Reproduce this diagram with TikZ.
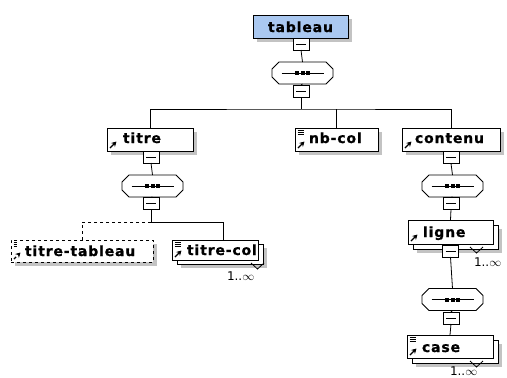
\documentclass[tikz,border=0pt]{standalone}
\usepackage{fontspec}
\setmainfont{DejaVu Sans}
\newfontfamily\boxfont[LetterSpace=6,FakeBold=1,BoldFont={DejaVu Sans Bold}]{DejaVu Sans}
\usetikzlibrary{shadows,arrows.meta}
\definecolor{tabblue}{RGB}{170,200,240}
\definecolor{shadowgray}{RGB}{195,195,195}
\newcommand\octopath[1]{([shift={(-23.5,-11)}]#1.center) -- ([shift={(23.5,-11)}]#1.center) -- ([shift={(30.5,-4)}]#1.center) -- ([shift={(30.5,4)}]#1.center) -- ([shift={(23.5,11)}]#1.center) -- ([shift={(-23.5,11)}]#1.center) -- ([shift={(-30.5,4)}]#1.center) -- ([shift={(-30.5,-4)}]#1.center) -- cycle}
\newcommand\seqnode[3]{%
  \node[seqbox] (#1) at (#2,#3) {};
  \begin{scope}[shift={(4,4)}]\fill[shadowgray] \octopath{#1};\end{scope}
  \filldraw[fill=white] \octopath{#1};
  \draw ([xshift=-21pt]#1.center) -- ([xshift=21pt]#1.center);
  \foreach \dx in {-5.5,0,5.5} \fill ([xshift=\dx pt]#1.center) +(-2,-2) rectangle +(2,2);
}
\begin{document}
\begin{tikzpicture}[x=1pt,y=-1pt,
  every node/.style={inner sep=0pt, outer sep=0pt},
  line width=0.8pt,
  shad/.style={drop shadow={shadow xshift=4pt,shadow yshift=-4pt,fill=shadowgray,draw=none,opacity=1}},
  elem/.style={draw, fill=white, line width=0.8pt, rectangle, anchor=north west},
  txt/.style={anchor=base west, font=\boxfont\bfseries\fontsize{14}{16}\selectfont},
  occ/.style={anchor=west, font=\fontsize{12}{14}\selectfont},
  mbox/.style={draw, fill=white, line width=0.8pt, minimum width=16pt, minimum height=12pt,
    path picture={\draw[line width=0.8pt] ([xshift=3pt]path picture bounding box.west) -- ([xshift=-3pt]path picture bounding box.east);}},
  seqbox/.style={rectangle, minimum width=61pt, minimum height=22pt},
  arrowicon/.style={path picture={\draw[line width=1.3pt,-{Stealth[length=5pt,width=5.5pt]}] ([shift={(3,-3)}]path picture bounding box.south west) -- ++(6.5,-6.5);}},
  bothicons/.style={path picture={\draw[line width=1.3pt,-{Stealth[length=5pt,width=5.5pt]}] ([shift={(3,-3)}]path picture bounding box.south west) -- ++(6.5,-6.5);
     \foreach \dy in {2.5,4.5,6.5} \draw[line width=0.6pt] ([shift={(2.5,\dy)}]path picture bounding box.north west) -- ++(6,0);}},
]
\useasboundingbox (0,0) rectangle (507,378);

% root
\node[elem, shad, fill=tabblue, minimum width=95pt, minimum height=23pt] (tableau) at (253,15) {};
\node[txt, anchor=base] (tableaut) at (300.5,32) {tableau};
\node[mbox] (m1) at (301,44) {};
\seqnode{s1}{302.5}{73}
\node[mbox] (m2) at (301,91) {};
\coordinate (j1) at (301,109);

% level 1
\node[elem, shad, arrowicon, minimum width=86pt, minimum height=23pt] (titre) at (107,128) {};
\node[txt] (titret) at (123,143) {titre};
\node[elem, shad, bothicons, minimum width=83pt, minimum height=23pt] (nbcol) at (295,128) {};
\node[txt] (nbcolt) at (309,143) {nb-col};
\node[elem, shad, arrowicon, minimum width=98pt, minimum height=23pt] (contenu) at (402,128) {};
\node[txt] (contenut) at (415,143) {contenu};

% titre branch
\node[mbox] (m3) at (151,157) {};
\seqnode{s2}{152.5}{186}
\node[mbox] (m4) at (151,203.5) {};
\coordinate (j2) at (151,222);
\node[elem, shad, dashed, bothicons, minimum width=142pt, minimum height=22pt] (titretab) at (11,240) {};
\node[txt] (titretabt) at (25,256) {titre-tableau};
\node[elem, shad, minimum width=86pt, minimum height=20pt] (titrecolb) at (177,244) {};
\node[elem, bothicons, minimum width=86pt, minimum height=20pt] (titrecol) at (172,240) {};
\node[txt] (titrecolt) at (187,255) {titre-col};
\draw (251,263) -- (257.5,269) -- (264,263);
\node[occ] (occ1) at (227,276) {1..$\infty$};

% contenu branch
\node[mbox] (m5) at (451,157.5) {};
\seqnode{s3}{452.5}{186}
\node[mbox] (m6) at (451,203.5) {};
\node[elem, shad, minimum width=85pt, minimum height=24pt] (ligneb) at (413,225) {};
\node[elem, arrowicon, minimum width=85pt, minimum height=24pt] (ligne) at (408,220) {};
\node[txt] (lignet) at (423,237) {ligne};
\draw (470,247) -- (476.5,253) -- (483,247);
\node[occ] (occ2) at (474,262) {1..$\infty$};
\node[mbox] (m7) at (450.5,251) {};
\seqnode{s4}{452.5}{299.5}
\node[mbox] (m8) at (451,318) {};
\node[elem, shad, minimum width=86pt, minimum height=23pt] (caseb) at (412,340) {};
\node[elem, bothicons, minimum width=86pt, minimum height=23pt] (case) at (407,335) {};
\node[txt] (caset) at (422,352) {case};
\draw (470,361) -- (476.5,367) -- (483,361);
\node[occ] (occ3) at (450,371) {1..$\infty$};

% connectors
\draw (m1.south) -- (s1.north);
\draw (s1.south) -- (m2.north);
\draw (m2.south) -- (j1);
\draw (titre.north) |- (j1) -| (contenu.north);
\draw (nbcol.north) -- (nbcol.north |- j1);
\draw (m3.south) -- (s2.north);
\draw (s2.south) -- (m4.north);
\draw (m4.south) -- (j2);
\draw[dashed] (j2) -| (titretab.north);
\draw (j2) -| ([xshift=51pt]titrecol.north west);
\draw (m5.south) -- (s3.north);
\draw (s3.south) -- (m6.north);
\draw (m6.south) -- (ligne.north);
\draw (m7.south) -- (s4.north);
\draw (s4.south) -- (m8.north);
\draw (m8.south) -- (case.north);
\end{tikzpicture}
\end{document}
